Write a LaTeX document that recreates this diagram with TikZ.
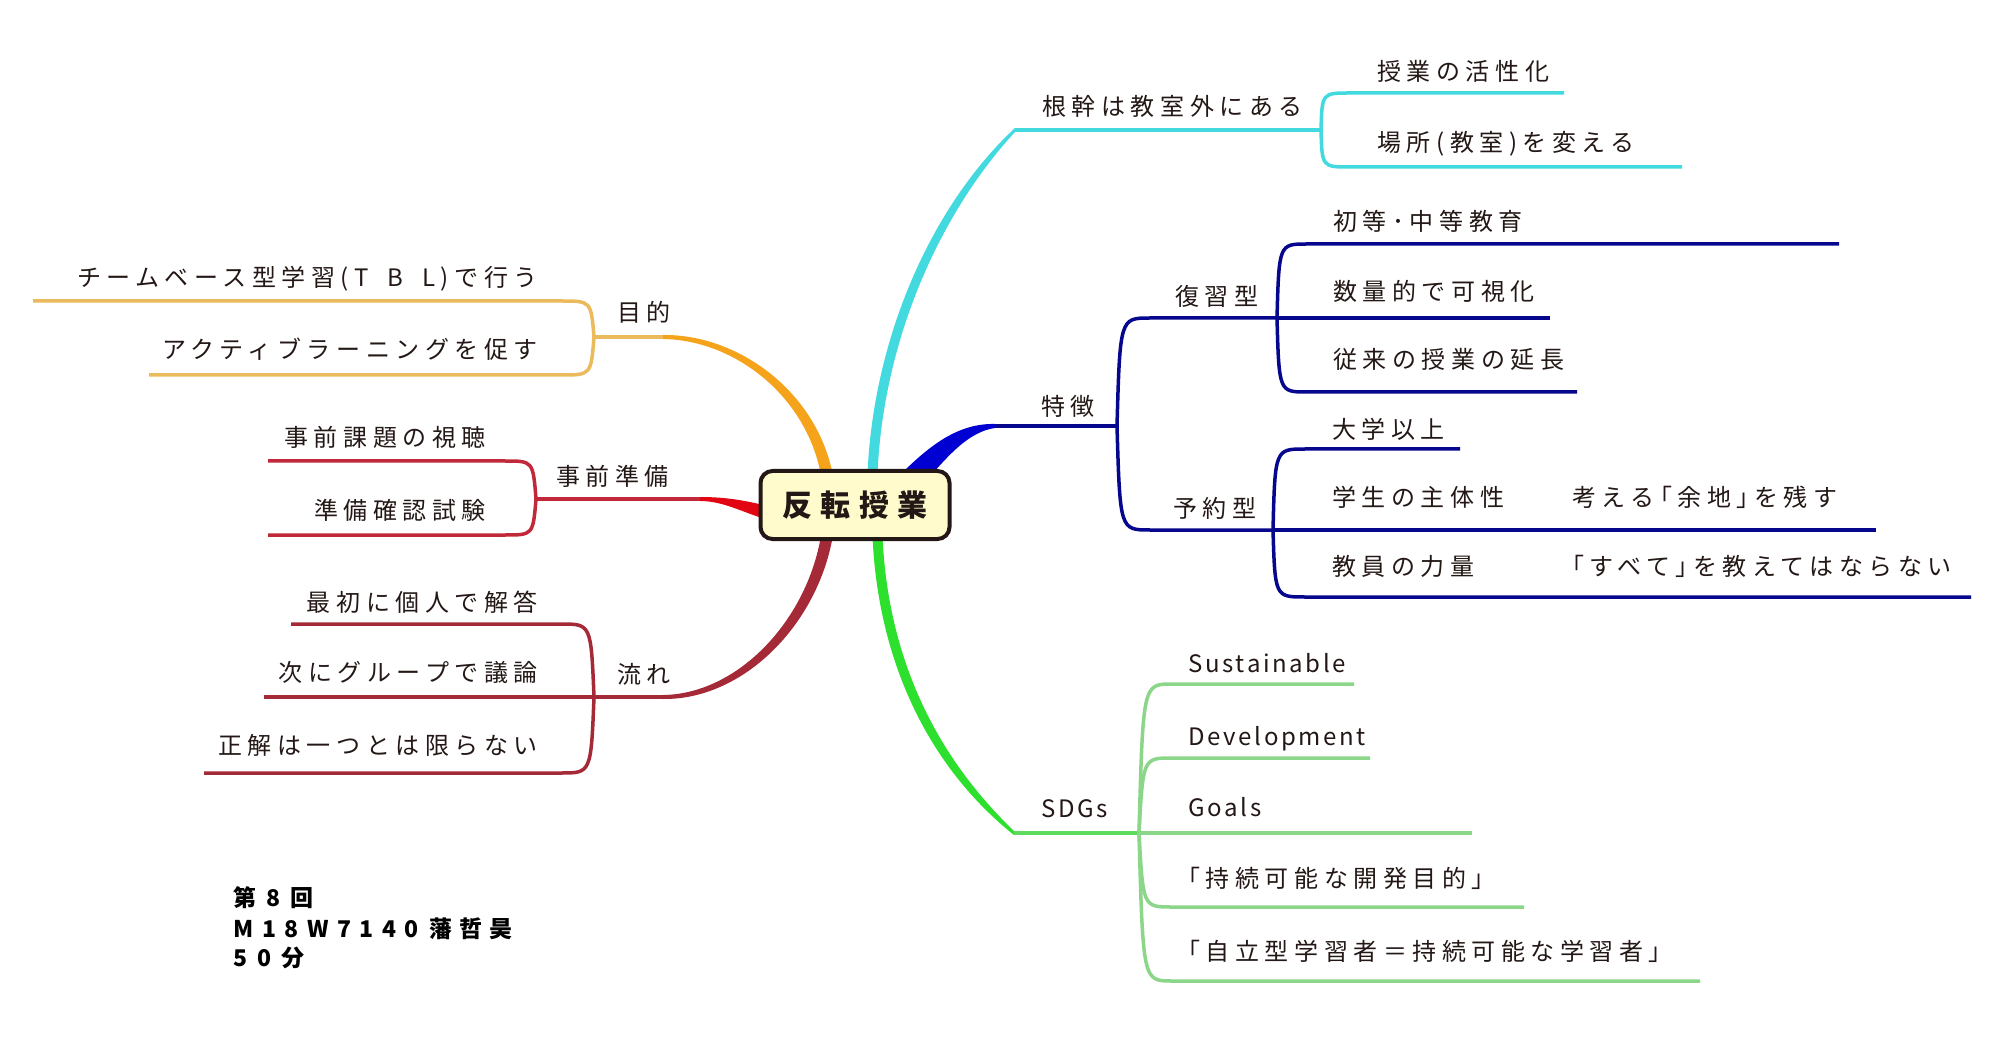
\documentclass[tikz,border=0pt]{standalone}
\usepackage{fontspec}
\newfontfamily\jp[LetterSpace=23]{Noto Sans CJK JP}
\newfontfamily\jplat[LetterSpace=11]{Noto Sans CJK JP}
\newfontfamily\jpnote[LetterSpace=30]{Noto Sans CJK JP}
\newcommand{\wide}[1]{{\addfontfeature{LetterSpace=37}#1}}
\usepackage{xcolor}
\usetikzlibrary{positioning}
\definecolor{ink}{HTML}{231815}
\definecolor{hubfill}{HTML}{FFFBCC}
\definecolor{cyanbr}{HTML}{42D9DF}
\definecolor{bluebr}{HTML}{0000D2}
\definecolor{navybr}{HTML}{07078E}
\definecolor{greenbr}{HTML}{2EE02E}
\definecolor{greenlt}{HTML}{8CD68A}
\definecolor{orangebr}{HTML}{F5A31A}
\definecolor{orangelt}{HTML}{EBBA5C}
\definecolor{redbr}{HTML}{E20613}
\definecolor{redlt}{HTML}{C1283A}
\definecolor{wine}{HTML}{A52A38}

\begin{document}
\begin{tikzpicture}[
      x=0.5pt, y=-0.5pt,
      lbl/.style={font=\jp\fontsize{12}{14}\selectfont, text=ink, inner sep=0pt},
      latlbl/.style={lbl, font=\jplat\fontsize{12}{14}\selectfont},
      notelbl/.style={lbl, font=\jpnote\bfseries\fontsize{11.5}{14}\selectfont, text=black, anchor=base west},
      twig/.style={line width=1.75pt},
      limb/.style={line width=2.2pt}
    ]
    % Sfondo e cornice
    \fill[white] (0,0) rectangle (2000,1047);
    \useasboundingbox (0,0) rectangle (2000,1047);

    % Punti di attacco dei rami
    \coordinate (rc) at (872,490);  \coordinate (c0) at (1015,130); \coordinate (kk) at (1321,130);
    \coordinate (rb) at (912,478);  \coordinate (b0) at (995,426);  \coordinate (tz) at (1117,426);
    \coordinate (rg) at (877,520);  \coordinate (g0) at (1014,833); \coordinate (sd) at (1139,833);
    \coordinate (ro) at (829,490);  \coordinate (o0) at (663,337);  \coordinate (mt) at (594,337);
    \coordinate (rr) at (775,515);  \coordinate (r0) at (700,499);  \coordinate (jz) at (536,499);
    \coordinate (rw) at (829,520);  \coordinate (w0) at (663,697);  \coordinate (nr) at (594,697);

    % Rami principali (affusolati)
    \fill[cyanbr] ([xshift=-2.5pt]rc) .. controls (869,345) and (930,207) .. ([yshift=1pt]c0)
      -- ([yshift=-1pt]c0) .. controls (940,213) and (879,345) .. ([xshift=2.5pt]rc) -- cycle;
    \fill[bluebr] ([shift={(-7,-8)}]rb) .. controls (930,446) and (958,423) .. ([yshift=1pt]b0)
      -- ([yshift=-1pt]b0) .. controls (965,432) and (942,464) .. ([shift={(10,7)}]rb) -- cycle;
    \fill[greenbr] ([xshift=-2.5pt]rg) .. controls (874,660) and (930,768) .. ([yshift=-1pt]g0)
      -- ([yshift=1pt]g0) .. controls (940,760) and (884,660) .. ([xshift=2.5pt]rg) -- cycle;
    \fill[orangebr] ([xshift=-3pt]ro) .. controls (815,402) and (738,340) .. ([yshift=-1pt]o0)
      -- ([yshift=1pt]o0) .. controls (742,334) and (826,398) .. ([xshift=3pt]ro) -- cycle;
    \fill[redbr] ([yshift=3.5pt]rr) .. controls (745,500) and (725,497) .. ([yshift=1pt]r0)
      -- ([yshift=-1pt]r0) .. controls (725,501) and (745,514) .. ([yshift=-3.5pt]rr) -- cycle;
    \fill[wine] ([xshift=-3pt]rw) .. controls (815,612) and (742,694) .. ([yshift=1pt]w0)
      -- ([yshift=-1pt]w0) .. controls (748,700) and (826,616) .. ([xshift=3pt]rw) -- cycle;

    \draw[limb, cyanbr] (c0) -- (kk);
    \draw[limb, navybr] (b0) -- (tz);
    \draw[limb, greenbr!50!greenlt] (g0) -- (sd);
    \draw[limb, orangelt] (o0) -- (mt);
    \draw[limb, redlt] (r0) -- (jz);
    \draw[limb, wine] (w0) -- (nr);

    % Nodo centrale
    \node[draw=ink, line width=2pt, fill=hubfill, rounded corners=6pt,
          minimum width=94.5pt, minimum height=34pt, text=ink,
          font=\jp\fontsize{15}{18}\selectfont\bfseries] (hub) at (855,505) {\addfontfeature{LetterSpace=27}反転授業};

    % Etichette dei rami
    \node[lbl, anchor=base west] (kkt) at (1042,116) {根幹は教室外にある};
    \node[lbl, anchor=base west] (tzt) at (1041,416) {特徴};
    \node[latlbl, anchor=base west] (sdt) at (1041,817) {SDGs};
    \node[lbl, anchor=base west] (mtt) at (617,322) {目的};
    \node[lbl, anchor=base west] (jzt) at (556,486) {事前準備};
    \node[lbl, anchor=base west] (nrt) at (617,683) {流れ};

    % Figli: 根幹は教室外にある
    \foreach \yy/\ty/\xe/\txt [count=\i] in {93/81/1564/授業の活性化, 167/152/1682/場所(教室)を変える} {
      \coordinate (kk\i) at (1350,\yy);
      \coordinate (kke\i) at (\xe,\yy);
      \draw[twig, cyanbr] (kk) .. controls (1322,\yy) .. (kk\i) -- (kke\i);
      \node[lbl, anchor=base west] (kkt\i) at (1377,\ty) {\txt};
    }

    % Figli: 特徴
    \coordinate (fk0) at (1150,318); \coordinate (fk) at (1277,318);
    \coordinate (yk0) at (1150,530); \coordinate (yk) at (1273,530);
    \draw[twig, navybr] (tz) .. controls (1120,318) .. (fk0) -- (fk);
    \draw[twig, navybr] (tz) .. controls (1120,530) .. (yk0) -- (yk);
    \node[lbl, anchor=base west] (fkt) at (1175,306) {復習型};
    \node[lbl, anchor=base west] (ykt) at (1173,517) {予約型};

    \foreach \yy/\ty/\xe/\txt [count=\i] in {244/231/1839/初等･中等教育, 318/301/1550/数量的で可視化, 392/369/1577/従来の授業の延長} {
      \coordinate (fk\i) at (1307,\yy);
      \coordinate (fke\i) at (\xe,\yy);
      \draw[twig, navybr] (fk) .. controls (1279,\yy) .. (fk\i) -- (fke\i);
      \node[lbl, anchor=base west] (fkt\i) at (1333,\ty) {\txt};
    }

    \foreach \yy/\ty/\xe/\txt [count=\i] in {449/439/1460/大学以上, 530/506/1876/学生の主体性, 597/575/1971/教員の力量} {
      \coordinate (yk\i) at (1305,\yy);
      \coordinate (yke\i) at (\xe,\yy);
      \draw[twig, navybr] (yk) .. controls (1275,\yy) .. (yk\i) -- (yke\i);
      \node[lbl, anchor=base west] (ykt\i) at (1332,\ty) {\txt};
    }
    \node[lbl, anchor=base west] (ykn2) at (1572,506) {考える｢余地｣を残す};
    \node[lbl, anchor=base west] (ykn3) at (1572,575) {｢すべて｣を教えてはならない};

    % Figli: SDGs
    \foreach \yy/\ty/\st/\xe/\txt [count=\i] in {684/672/latlbl/1354/Sustainable, 758/745/latlbl/1370/Development,
        833/816/latlbl/1472/Goals, 907/887/lbl/1524/｢持続可能な開発目的｣, 981/960/lbl/1700/｢自立型学習者＝持続可能な学習者｣} {
      \coordinate (sd\i) at (1172,\yy);
      \coordinate (sde\i) at (\xe,\yy);
      \draw[twig, greenlt] (sd) .. controls (1143,\yy) .. (sd\i) -- (sde\i);
      \node[\st, anchor=base west] (sdt\i) at (1188,\ty) {\txt};
    }

    % Figli: 目的
    \foreach \yy/\ty/\xe/\txt [count=\i] in {301/287/33/チームベース型学習(T\hspace{4pt} B\hspace{4pt} L)で行う, 375/359/149/アクティブラーニングを促す} {
      \coordinate (mt\i) at (561,\yy);
      \coordinate (mte\i) at (\xe,\yy);
      \draw[twig, orangelt] (mt) .. controls (591,\yy) .. (mt\i) -- (mte\i);
      \node[lbl, anchor=base east] (mtt\i) at (538,\ty) {\txt};
    }

    % Figli: 事前準備
    \foreach \yy/\ty/\xe/\txt [count=\i] in {461/447/268/事前課題の視聴, 535/519/268/準備確認試験} {
      \coordinate (jz\i) at (505,\yy);
      \coordinate (jze\i) at (\xe,\yy);
      \draw[twig, redlt] (jz) .. controls (533,\yy) .. (jz\i) -- (jze\i);
      \node[lbl, anchor=base east] (jzt\i) at (486,\ty) {\txt};
    }

    % Figli: 流れ
    \foreach \yy/\ty/\xe/\txt [count=\i] in {624/611/291/最初に個人で解答, 697/681/264/次にグループで議論, 773/754/204/正解は一つとは限らない} {
      \coordinate (nr\i) at (561,\yy);
      \coordinate (nre\i) at (\xe,\yy);
      \draw[twig, wine] (nr) .. controls (591,\yy) .. (nr\i) -- (nre\i);
      \node[lbl, anchor=base east] (nrt\i) at (538,\ty) {\txt};
    }

    % Nota in basso
    \node[notelbl] (note1) at (233,906) {第\hspace{5pt}8\hspace{5pt}回};
    \node[notelbl] (note2) at (233,937) {\wide{M18W7140}\hspace{5.5pt}藩哲昊};
    \node[notelbl] (note3) at (233,966) {5\hspace{5pt}0\hspace{5pt}分};
  \end{tikzpicture}
\end{document}
